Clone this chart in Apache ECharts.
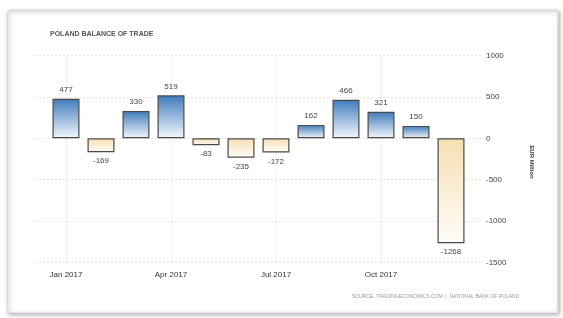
<!DOCTYPE html>
<html lang="en">

<head>
    <meta charset="UTF-8">
    <title>Poland Balance of Trade</title>
    <style type="text/css">
        html, body { margin: 0; padding: 0; background: #fff; }
        #main { width: 563px; height: 318px; }
    </style>
</head>

<body>
    <div id="main"></div>
    <script type="text/javascript" src="https://cdn.jsdelivr.net/npm/echarts@6/dist/echarts.min.js"></script>
    <script type="text/javascript">
    // data (EUR million, 2017)
    var months = ['Jan 2017', 'Feb 2017', 'Mar 2017', 'Apr 2017', 'May 2017', 'Jun 2017',
        'Jul 2017', 'Aug 2017', 'Sep 2017', 'Oct 2017', 'Nov 2017', 'Dec 2017'];
    var balance = [477, -169, 330, 519, -83, -235, -172, 162, 466, 321, 150, -1268];
    var gridMonths = ['Jan 2017', 'Apr 2017', 'Jul 2017', 'Oct 2017'];

    var blueFill = new echarts.graphic.LinearGradient(0, 0, 0, 1, [
        { offset: 0, color: '#3f7bbd' }, { offset: 1, color: '#f4f8fc' }
    ]);
    var tanFill = new echarts.graphic.LinearGradient(0, 0, 0, 1, [
        { offset: 0, color: '#f6dfb2' }, { offset: 1, color: '#fffdf9' }
    ]);

    var seriesData = balance.map(function(v) {
        return {
            value: v,
            itemStyle: { color: v >= 0 ? blueFill : tanFill },
            label: { position: v >= 0 ? 'top' : 'bottom' }
        };
    });

    var myChart = echarts.init(document.getElementById('main'));
    var option = {
        animation: false,
        backgroundColor: '#fff',
        graphic: [{
            type: 'rect',
            shape: { x: 8, y: 11, width: 550, height: 302 },
            style: { fill: '#fff', stroke: '#d6d6d6', lineWidth: 1, shadowBlur: 4, shadowColor: 'rgba(0,0,0,0.35)', shadowOffsetX: 1, shadowOffsetY: 1 },
            z: -10
        }, {
            type: 'text', left: 50, top: 31,
            style: { text: 'POLAND BALANCE OF TRADE', fill: '#555', font: 'bold 7px "Liberation Sans Narrow", "Liberation Sans", sans-serif' }
        }, {
            type: 'text', left: 352, top: 294,
            style: { text: 'SOURCE: TRADINGECONOMICS.COM  |  NATIONAL BANK OF POLAND', fill: '#999', font: '5px "Liberation Sans", sans-serif' }
        }, {
            type: 'text', x: 532, y: 162, rotation: -Math.PI / 2,
            style: { text: 'EUR Million', fill: '#333', font: 'bold 6px "Liberation Sans", sans-serif', align: 'center', verticalAlign: 'middle' }
        }],
        grid: [
            { left: 35, right: 80, top: 55.5, bottom: 55.5 },
            { left: 48.5, right: 94.5, top: 55.5, bottom: 55.5 }
        ],
        xAxis: [{
            gridIndex: 0, type: 'value', show: false, min: 0, max: 1
        }, {
            gridIndex: 1, type: 'category', data: months,
            axisLine: { show: false }, axisTick: { show: false },
            axisLabel: { interval: 2, color: '#333', fontSize: 8, margin: 8, fontFamily: 'Liberation Sans' }
        }],
        yAxis: [{
            gridIndex: 0, type: 'value', position: 'right', min: -1500, max: 1000, interval: 500,
            axisLine: { show: false }, axisTick: { show: false },
            axisLabel: { color: '#444', fontSize: 8, margin: 3, fontFamily: 'Liberation Sans', formatter: function(v) { return String(v); } },
            splitLine: { lineStyle: { color: '#e3e3e3', type: [2, 2] } }
        }, {
            gridIndex: 1, type: 'value', min: -1500, max: 1000, show: false, splitLine: { show: false }
        }],
        series: [{
            name: 'Balance of Trade',
            type: 'bar',
            xAxisIndex: 1,
            yAxisIndex: 1,
            barWidth: 27,
            z: 5,
            data: seriesData,
            itemStyle: { borderColor: '#4a4a4a', borderWidth: 1.2 },
            label: { show: true, color: '#444', fontSize: 8, distance: 5, fontFamily: 'Liberation Sans' },
            markLine: {
                silent: true,
                z: 1,
                symbol: 'none',
                label: { show: false },
                lineStyle: { color: '#e3e3e3', type: [2, 2], width: 1 },
                data: gridMonths.map(function(m) { return { xAxis: m }; })
            }
        }]
    };
    myChart.setOption(option);
    </script>
</body>

</html>
